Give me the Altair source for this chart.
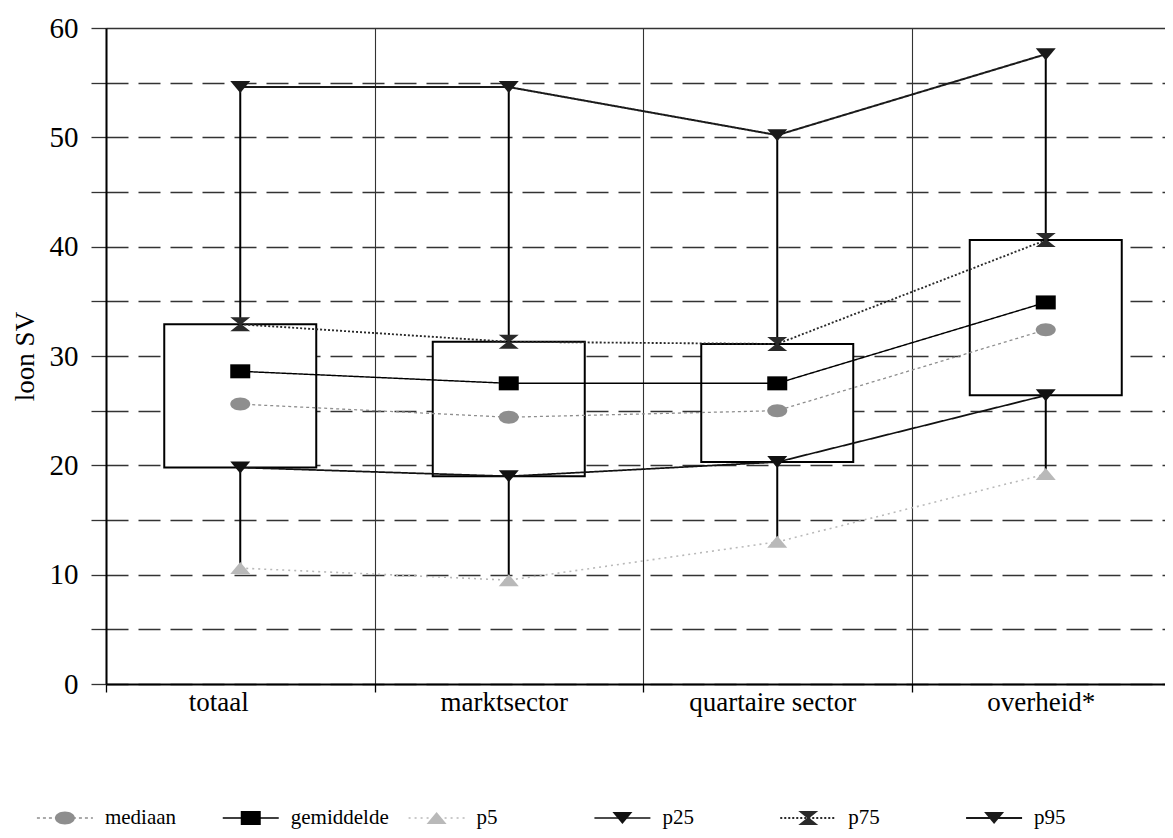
import altair as alt
import pandas as pd

# ---- data ----
categorieen = ["totaal", "marktsector", "quartaire sector", "overheid*"]
p5 = [10.6, 9.5, 13.0, 19.2]
p25 = [19.8, 19.0, 20.3, 26.4]
mediaan = [25.6, 24.4, 25.0, 32.4]
gemiddelde = [28.6, 27.5, 27.5, 34.9]
p75 = [32.9, 31.3, 31.1, 40.6]
p95 = [54.6, 54.6, 50.2, 57.6]

reeksen = ["mediaan", "gemiddelde", "p5", "p25", "p75", "p95"]
y_ticks = list(range(0, 61, 5))

# ---- styles ----
FONT = "Liberation Serif"
paden = [
    "M-1,0A1,0.65,0,1,1,1,0A1,0.65,0,1,1,-1,0Z",          # mediaan ellipse
    "M-1,-0.7H1V0.7H-1Z",                                  # gemiddelde square
    "M-1,0.6L1,0.6L0,-0.6Z",                               # p5 triangle up
    "M-1,-0.6L1,-0.6L0,0.6Z",                              # p25 triangle down
    "M-1,-0.7L1,-0.7L0.12,0L1,0.7L-1,0.7L-0.12,0Z",        # p75 hourglass
    "M-1,-0.6L1,-0.6L0,0.6Z",                              # p95 triangle down
]
kleuren = ["#8e8e8e", "#000000", "#b9b9b9", "#111111", "#2a2a2a", "#1a1a1a"]
streep = [[3, 3], [1, 0], [2, 4], [1, 0], [2, 2], [1, 0]]
dikte = [1.3, 2.0, 1.3, 1.4, 1.2, 1.2]

wide = pd.DataFrame({
    "categorie": categorieen, "p5": p5, "p25": p25, "mediaan": mediaan,
    "gemiddelde": gemiddelde, "p75": p75, "p95": p95,
})
wide["volgorde"] = range(len(categorieen))
long = wide.melt(id_vars=["categorie", "volgorde"], value_vars=reeksen,
                 var_name="reeks", value_name="waarde")
legend_df = pd.DataFrame({"reeks": reeksen})

y_scale = alt.Scale(domain=[0, 60], nice=False, zero=True)
y_axis = alt.Axis(
    values=y_ticks, labelExpr="datum.value % 10 === 0 ? datum.label : ''",
    labelFont=FONT, labelFontSize=29, labelColor="black", labelPadding=13,
    tickSize=15, tickColor="#333333", tickWidth=1.3,
    domainColor="black", domainWidth=2,
    grid=True, gridColor="#333333", gridWidth=1.3,
    gridDash={"condition": {"test": "datum.value === 60", "value": [1, 0]}, "value": [22, 10]},
    titleFont=FONT, titleFontSize=27, titleFontWeight="normal", titleColor="black",
    titlePadding=10,
)
x_axis = alt.Axis(
    labelFont=FONT, labelFontSize=27, labelColor="black", labelAngle=0,
    labelPadding=-3,
    labelOffset={"condition": {"test": "datum.value === 'totaal'", "value": -22}, "value": -5},
    tickBand="extent", tickSize=8, tickColor="black", tickWidth=1.3,
    domainColor="black", domainWidth=2,
    grid=True, gridColor="#333333", gridWidth=1.1,
)
x_main = alt.X("categorie:N",
               scale=alt.Scale(domain=categorieen, range=[0, 1074], paddingInner=0, paddingOuter=0),
               axis=x_axis, title=None)

kleur = alt.Color("reeks:N", scale=alt.Scale(domain=reeksen, range=kleuren), legend=None)
vorm = alt.Shape("reeks:N", scale=alt.Scale(domain=reeksen, range=paden), legend=None)
dash = alt.StrokeDash("reeks:N", scale=alt.Scale(domain=reeksen, range=streep), legend=None)
breed = alt.StrokeWidth("reeks:N", scale=alt.Scale(domain=reeksen, range=dikte), legend=None)

whisker = alt.Chart(wide).mark_rule(color="black", strokeWidth=2).encode(
    x=x_main,
    y=alt.Y("p5:Q", scale=y_scale, axis=y_axis, title="loon SV"),
    y2="p95:Q",
)
box = alt.Chart(wide).mark_bar(size=152, color="white", stroke="black", strokeWidth=2).encode(
    x=x_main, y="p25:Q", y2="p75:Q",
)
lijnen = alt.Chart(long).mark_line().encode(
    x=x_main, y="waarde:Q", color=kleur, strokeDash=dash, strokeWidth=breed,
    order="volgorde:Q",
)
punten = alt.Chart(long).mark_point(filled=True, size=400, opacity=1).encode(
    x=x_main, y="waarde:Q", color=kleur, shape=vorm,
)
main = alt.layer(whisker, box, lijnen, punten)

x_leg = alt.X("reeks:N",
              scale=alt.Scale(domain=reeksen, range=[-134, 981], paddingInner=0, paddingOuter=0),
              axis=None)
leg_y = alt.value(790)
leg_lijn = alt.Chart(legend_df).mark_rule(xOffset=-28, x2Offset=28).encode(
    x=x_leg, x2="reeks:N", y=leg_y, color=kleur, strokeDash=dash, strokeWidth=breed,
)
leg_punt = alt.Chart(legend_df).mark_point(filled=True, size=400, opacity=1).encode(
    x=x_leg, y=leg_y, color=kleur, shape=vorm,
)
leg_tekst = alt.Chart(legend_df).mark_text(
    align="left", baseline="middle", dx=40, font=FONT, fontSize=21, color="black",
).encode(x=x_leg, y=leg_y, text="reeks:N")
legenda = alt.layer(leg_lijn, leg_punt, leg_tekst)

chart = alt.layer(main, legenda).resolve_scale(x="independent").properties(
    width=1059, height=656,
    autosize=alt.AutoSizeParams(type="none"),
    padding={"left": 98, "top": 20, "right": 0, "bottom": 146},
    background="white",
).configure_view(stroke=None)

chart.save("out.html", embed_options={"renderer": "svg", "actions": False})
